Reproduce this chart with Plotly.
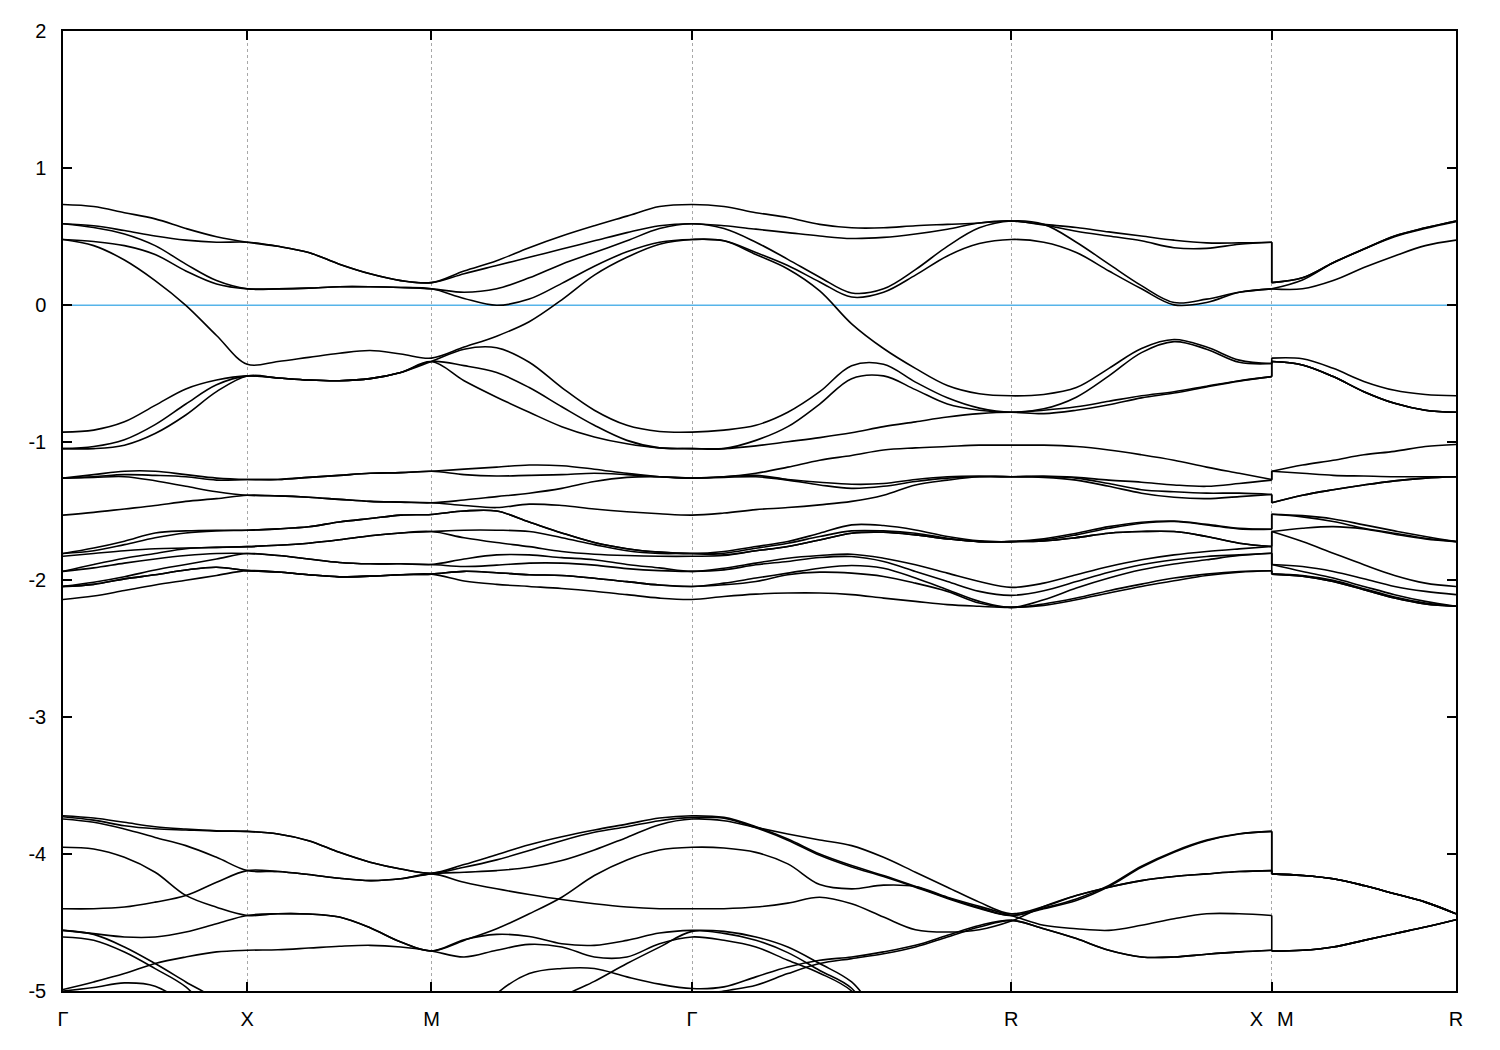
import plotly.graph_objects as go

# ---- k-path (cubic: G-X-M-G-R-X|M-R) ----
SEG_LEN = [0.5, 0.5, 0.70711, 0.86603, 0.70711, 0.0, 0.5]
SEG_N = [6, 6, 8, 10, 8, 1, 6]
TICK_LABELS = ["Γ", "X", "M", "Γ", "R", "X\u2002\u2009M", "R"]
Y_TICKS = [2, 1, 0, -1, -2, -3, -4, -5]
Y_TICK_TEXT = ["2", "1", "0", "-1", "-2", "-3", "-4", "-5"]

L = -5.3  # below the visible window

# ---- bands (eV), sampled along the path: G-X(7) X-M(6) M-G(8) G-R(10) R-X(8) M(1) M-R(6) ----
A8 = [0.735, 0.72, 0.675, 0.63, 0.56, 0.50, 0.46,
      0.43, 0.385, 0.30, 0.23, 0.18, 0.165,
      0.25, 0.325, 0.42, 0.505, 0.58, 0.65, 0.72, 0.735,
      0.72, 0.675, 0.64, 0.59, 0.565, 0.565, 0.58, 0.59, 0.60, 0.615,
      0.59, 0.567, 0.535, 0.505, 0.475, 0.455, 0.455, 0.46,
      0.165,
      0.20, 0.31, 0.41, 0.505, 0.565, 0.615]
A7 = [0.595, 0.58, 0.545, 0.505, 0.475, 0.46, 0.46,
      0.43, 0.385, 0.30, 0.23, 0.18, 0.165,
      0.23, 0.29, 0.35, 0.41, 0.47, 0.53, 0.58, 0.595,
      0.58, 0.555, 0.53, 0.505, 0.487, 0.495, 0.52, 0.555, 0.60, 0.615,
      0.585, 0.54, 0.505, 0.47, 0.42, 0.415, 0.445, 0.46,
      0.165,
      0.20, 0.31, 0.41, 0.505, 0.565, 0.615]
A6 = [0.595, 0.567, 0.52, 0.435, 0.30, 0.18, 0.12,
      0.12, 0.125, 0.135, 0.135, 0.13, 0.12,
      0.095, 0.12, 0.20, 0.30, 0.385, 0.47, 0.56, 0.595,
      0.56, 0.46, 0.335, 0.205, 0.09, 0.12, 0.26, 0.43, 0.565, 0.615,
      0.59, 0.46, 0.30, 0.143, 0.02, 0.045, 0.095, 0.12,
      0.12,
      0.185, 0.31, 0.41, 0.50, 0.56, 0.61]
A5 = [0.48, 0.465, 0.435, 0.37, 0.25, 0.155, 0.12,
      0.12, 0.125, 0.135, 0.135, 0.13, 0.12,
      0.05, 0.0, 0.045, 0.16, 0.285, 0.39, 0.46, 0.48,
      0.47, 0.385, 0.29, 0.17, 0.06, 0.095, 0.22, 0.36, 0.45, 0.48,
      0.46, 0.385, 0.25, 0.12, 0.003, 0.02, 0.095, 0.12,
      0.12,
      0.12, 0.18, 0.275, 0.36, 0.435, 0.475]
A4 = [0.48, 0.435, 0.33, 0.18, 0.0, -0.22, -0.43,
      -0.41, -0.38, -0.35, -0.33, -0.355, -0.385,
      -0.305, -0.225, -0.12, 0.04, 0.22, 0.35, 0.445, 0.48,
      0.47, 0.37, 0.265, 0.105, -0.135, -0.315, -0.46, -0.585, -0.645, -0.66,
      -0.65, -0.60, -0.46, -0.315, -0.25, -0.305, -0.40, -0.425,
      -0.385,
      -0.39, -0.46, -0.555, -0.62, -0.65, -0.66]
A3 = [-0.925, -0.91, -0.85, -0.73, -0.61, -0.545, -0.515,
      -0.53, -0.545, -0.55, -0.535, -0.49, -0.41,
      -0.32, -0.31, -0.415, -0.60, -0.765, -0.875, -0.92, -0.925,
      -0.91, -0.875, -0.78, -0.63, -0.44, -0.43, -0.56, -0.675, -0.75, -0.78,
      -0.755, -0.67, -0.515, -0.345, -0.265, -0.32, -0.415, -0.425,
      -0.41,
      -0.435, -0.52, -0.63, -0.715, -0.765, -0.78]
A2 = [-1.045, -1.03, -0.98, -0.87, -0.72, -0.58, -0.515,
      -0.53, -0.545, -0.55, -0.535, -0.49, -0.41,
      -0.44, -0.49, -0.60, -0.74, -0.875, -0.985, -1.04, -1.045,
      -1.045, -0.985, -0.885, -0.72, -0.535, -0.515, -0.615, -0.72, -0.765, -0.78,
      -0.765, -0.74, -0.70, -0.66, -0.63, -0.59, -0.55, -0.52,
      -0.41,
      -0.435, -0.52, -0.63, -0.715, -0.765, -0.78]
A1 = [-1.045, -1.045, -1.02, -0.935, -0.80, -0.63, -0.515,
      -0.53, -0.545, -0.55, -0.535, -0.49, -0.41,
      -0.55, -0.67, -0.78, -0.885, -0.96, -1.01, -1.04, -1.045,
      -1.045, -1.025, -0.995, -0.965, -0.93, -0.885, -0.85, -0.815, -0.79, -0.78,
      -0.79, -0.765, -0.725, -0.675, -0.64, -0.595, -0.553, -0.52,
      -0.41,
      -0.435, -0.52, -0.63, -0.715, -0.765, -0.78]

B4 = [-1.26, -1.235, -1.21, -1.21, -1.235, -1.26, -1.27,
      -1.27, -1.255, -1.24, -1.225, -1.22, -1.21,
      -1.195, -1.18, -1.165, -1.17, -1.195, -1.225, -1.25, -1.26,
      -1.25, -1.225, -1.18, -1.13, -1.095, -1.055, -1.04, -1.03, -1.02, -1.02,
      -1.02, -1.03, -1.055, -1.09, -1.13, -1.18, -1.225, -1.27,
      -1.21,
      -1.165, -1.13, -1.09, -1.065, -1.03, -1.015]
B3 = [-1.26, -1.25, -1.235, -1.24, -1.25, -1.275, -1.27,
      -1.27, -1.255, -1.24, -1.225, -1.22, -1.21,
      -1.235, -1.245, -1.24, -1.235, -1.225, -1.235, -1.25, -1.26,
      -1.25, -1.24, -1.27, -1.29, -1.305, -1.30, -1.27, -1.25, -1.245, -1.25,
      -1.245, -1.255, -1.275, -1.29, -1.31, -1.32, -1.30, -1.275,
      -1.21,
      -1.225, -1.24, -1.245, -1.25, -1.25, -1.25]
B2 = [-1.26, -1.255, -1.25, -1.28, -1.32, -1.36, -1.385,
      -1.39, -1.40, -1.415, -1.43, -1.435, -1.44,
      -1.42, -1.395, -1.37, -1.335, -1.285, -1.255, -1.25, -1.26,
      -1.255, -1.25, -1.275, -1.31, -1.335, -1.32, -1.285, -1.26, -1.25, -1.25,
      -1.25, -1.26, -1.30, -1.345, -1.36, -1.37, -1.37, -1.38,
      -1.44,
      -1.385, -1.345, -1.31, -1.28, -1.26, -1.25]
B1 = [-1.53, -1.51, -1.485, -1.46, -1.43, -1.41, -1.385,
      -1.39, -1.40, -1.415, -1.43, -1.435, -1.44,
      -1.46, -1.475, -1.45, -1.46, -1.485, -1.505, -1.52, -1.53,
      -1.515, -1.49, -1.475, -1.455, -1.43, -1.385, -1.31, -1.275, -1.25, -1.25,
      -1.255, -1.275, -1.32, -1.37, -1.40, -1.41, -1.395, -1.38,
      -1.44,
      -1.385, -1.345, -1.31, -1.28, -1.26, -1.25]

C9 = [-1.81, -1.77, -1.72, -1.66, -1.645, -1.64, -1.64,
      -1.63, -1.615, -1.58, -1.555, -1.53, -1.525,
      -1.50, -1.50, -1.58, -1.66, -1.73, -1.775, -1.80, -1.81,
      -1.795, -1.759, -1.723, -1.662, -1.601, -1.606, -1.638, -1.686, -1.718, -1.723,
      -1.703, -1.662, -1.614, -1.582, -1.573, -1.597, -1.626, -1.633,
      -1.524,
      -1.534, -1.558, -1.601, -1.645, -1.686, -1.723]
C8 = [-1.81, -1.79, -1.745, -1.695, -1.66, -1.645, -1.64,
      -1.63, -1.615, -1.58, -1.555, -1.53, -1.525,
      -1.50, -1.50, -1.58, -1.66, -1.73, -1.775, -1.80, -1.81,
      -1.808, -1.771, -1.735, -1.686, -1.645, -1.645, -1.662, -1.699, -1.723, -1.723,
      -1.711, -1.674, -1.626, -1.589, -1.577, -1.601, -1.631, -1.633,
      -1.524,
      -1.543, -1.577, -1.626, -1.662, -1.699, -1.723]
C7 = [-1.83, -1.81, -1.79, -1.775, -1.77, -1.765, -1.76,
      -1.75, -1.735, -1.71, -1.68, -1.66, -1.65,
      -1.64, -1.64, -1.65, -1.695, -1.745, -1.79, -1.81, -1.81,
      -1.82, -1.79, -1.759, -1.711, -1.662, -1.655, -1.674, -1.703, -1.723, -1.723,
      -1.718, -1.694, -1.662, -1.650, -1.650, -1.686, -1.735, -1.759,
      -1.65,
      -1.626, -1.614, -1.631, -1.669, -1.703, -1.723]
C6 = [-1.94, -1.89, -1.845, -1.81, -1.775, -1.765, -1.76,
      -1.75, -1.735, -1.71, -1.68, -1.66, -1.65,
      -1.695, -1.73, -1.76, -1.795, -1.815, -1.825, -1.83, -1.83,
      -1.825, -1.79, -1.759, -1.711, -1.662, -1.655, -1.674, -1.703, -1.723, -1.723,
      -1.718, -1.694, -1.662, -1.650, -1.650, -1.686, -1.735, -1.759,
      -1.65,
      -1.723, -1.808, -1.892, -1.970, -2.026, -2.050]
C5 = [-1.94, -1.915, -1.88, -1.85, -1.825, -1.81, -1.81,
      -1.825, -1.85, -1.875, -1.885, -1.885, -1.89,
      -1.85, -1.82, -1.82, -1.84, -1.855, -1.89, -1.915, -1.94,
      -1.917, -1.880, -1.844, -1.825, -1.815, -1.844, -1.892, -1.953, -2.014, -2.057,
      -2.026, -1.965, -1.905, -1.856, -1.820, -1.795, -1.776, -1.759,
      -1.89,
      -1.905, -1.941, -1.994, -2.050, -2.086, -2.110]
C4 = [-2.05, -2.02, -1.98, -1.93, -1.89, -1.85, -1.81,
      -1.825, -1.85, -1.875, -1.885, -1.885, -1.89,
      -1.905, -1.895, -1.88, -1.88, -1.895, -1.92, -1.935, -1.94,
      -1.929, -1.892, -1.868, -1.839, -1.832, -1.868, -1.941, -2.014, -2.086, -2.115,
      -2.081, -2.014, -1.946, -1.892, -1.856, -1.832, -1.820, -1.808,
      -1.89,
      -1.941, -1.989, -2.050, -2.110, -2.159, -2.195]
C3 = [-2.05, -2.035, -1.995, -1.965, -1.93, -1.91, -1.935,
      -1.945, -1.965, -1.98, -1.975, -1.965, -1.96,
      -1.94, -1.95, -1.965, -1.97, -1.99, -2.015, -2.04, -2.05,
      -2.026, -1.989, -1.953, -1.917, -1.897, -1.917, -1.989, -2.074, -2.159, -2.203,
      -2.147, -2.062, -1.989, -1.929, -1.887, -1.856, -1.825, -1.808,
      -1.96,
      -1.970, -2.006, -2.067, -2.127, -2.171, -2.195]
C2 = [-2.05, -2.035, -1.995, -1.965, -1.93, -1.91, -1.935,
      -1.945, -1.965, -1.98, -1.975, -1.965, -1.96,
      -1.94, -1.95, -1.965, -1.97, -1.99, -2.015, -2.04, -2.05,
      -2.038, -2.014, -1.965, -1.946, -1.953, -1.977, -2.026, -2.086, -2.171, -2.203,
      -2.178, -2.135, -2.081, -2.033, -1.989, -1.960, -1.941, -1.936,
      -1.96,
      -1.975, -2.014, -2.074, -2.135, -2.178, -2.195]
C1 = [-2.145, -2.12, -2.08, -2.04, -2.005, -1.97, -1.935,
      -1.945, -1.965, -1.98, -1.975, -1.965, -1.96,
      -2.01, -2.035, -2.05, -2.065, -2.085, -2.11, -2.135, -2.145,
      -2.123, -2.106, -2.098, -2.098, -2.110, -2.135, -2.159, -2.183, -2.195, -2.203,
      -2.188, -2.147, -2.098, -2.050, -2.009, -1.970, -1.946, -1.936,
      -1.96,
      -1.975, -2.014, -2.074, -2.135, -2.178, -2.195]

D1 = [-3.722, -3.739, -3.770, -3.802, -3.819, -3.831, -3.836,
      -3.855, -3.904, -3.989, -4.061, -4.110, -4.141,
      -4.078, -4.006, -3.933, -3.875, -3.826, -3.783, -3.739, -3.722,
      -3.734, -3.802, -3.892, -4.001, -4.085, -4.158, -4.238, -4.320, -4.393, -4.449,
      -4.400, -4.340, -4.238, -4.098, -3.988, -3.904, -3.855, -3.836,
      -4.146,
      -4.158, -4.182, -4.231, -4.291, -4.352, -4.437]
D2 = [-3.729, -3.754, -3.795, -3.817, -3.826, -3.834, -3.836,
      -3.855, -3.904, -3.989, -4.061, -4.110, -4.141,
      -4.098, -4.044, -3.976, -3.904, -3.843, -3.802, -3.758, -3.734,
      -3.740, -3.810, -3.900, -4.010, -4.095, -4.165, -4.243, -4.325, -4.398, -4.449,
      -4.395, -4.330, -4.230, -4.090, -3.982, -3.900, -3.853, -3.836,
      -4.146,
      -4.158, -4.182, -4.231, -4.291, -4.352, -4.437]
D3 = [-3.746, -3.770, -3.819, -3.880, -3.940, -4.025, -4.122,
      -4.129, -4.151, -4.178, -4.195, -4.182, -4.146,
      -4.134, -4.122, -4.098, -4.049, -3.972, -3.880, -3.787, -3.746,
      -3.758, -3.807, -3.855, -3.899, -3.940, -4.025, -4.134, -4.243, -4.352, -4.437,
      -4.384, -4.304, -4.243, -4.195, -4.165, -4.146, -4.129, -4.122,
      -4.146,
      -4.158, -4.182, -4.231, -4.291, -4.352, -4.437]
D4 = [-3.952, -3.964, -4.025, -4.134, -4.303, -4.389, -4.449,
      -4.437, -4.439, -4.461, -4.539, -4.643, -4.708,
      -4.631, -4.546, -4.437, -4.316, -4.158, -4.044, -3.972, -3.952,
      -3.957, -3.989, -4.073, -4.224, -4.255, -4.228, -4.238, -4.316, -4.383, -4.449,
      -4.521, -4.546, -4.558, -4.521, -4.473, -4.437, -4.437, -4.449,
      -4.708,
      -4.703, -4.679, -4.631, -4.582, -4.534, -4.480]
D5 = [-4.400, -4.400, -4.388, -4.352, -4.304, -4.207, -4.122,
      -4.129, -4.151, -4.178, -4.195, -4.182, -4.146,
      -4.207, -4.255, -4.296, -4.333, -4.364, -4.388, -4.400, -4.400,
      -4.400, -4.388, -4.359, -4.316, -4.364, -4.461, -4.553, -4.570, -4.553, -4.490,
      -4.384, -4.304, -4.243, -4.195, -4.165, -4.146, -4.129, -4.122,
      -4.146,
      -4.158, -4.182, -4.231, -4.291, -4.352, -4.437]
D6 = [-4.558, -4.582, -4.606, -4.606, -4.570, -4.509, -4.449,
      -4.437, -4.439, -4.461, -4.539, -4.643, -4.708,
      -4.626, -4.587, -4.602, -4.655, -4.667, -4.631, -4.577, -4.558,
      -4.565, -4.606, -4.679, -4.800, -4.934, -5.2, L, L, L, L,
      L, L, L, L, L, L, L, L,
      L,
      L, L, L, L, L, L]
D7 = [-4.558, -4.587, -4.679, -4.800, -4.934, -5.067, L,
      L, L, L, L, L, L,
      L, -5.02, -4.873, -4.836, -4.836, -4.897, -4.95, -4.982,
      -4.970, -4.897, -4.825, -4.776, -4.752, -4.715, -4.667, -4.594, -4.522, -4.485,
      -4.546, -4.618, -4.703, -4.752, -4.752, -4.732, -4.715, -4.703,
      -4.708,
      -4.703, -4.679, -4.631, -4.582, -4.534, -4.480]
D8 = [-4.606, -4.630, -4.716, -4.837, -4.970, -5.2, L,
      L, L, L, L, L, L,
      L, L, L, -5.05, -4.93, -4.80, -4.68, -4.565,
      -4.58, -4.63, -4.72, -4.85, -4.98, L, L, L, L, L,
      L, L, L, L, L, L, L, L,
      L,
      L, L, L, L, L, L]
D9 = [-4.989, -4.934, -4.873, -4.800, -4.752, -4.715, -4.703,
      -4.699, -4.687, -4.674, -4.667, -4.679, -4.708,
      -4.752, -4.703, -4.660, -4.679, -4.752, -4.752, -4.655, -4.606,
      -4.630, -4.679, -4.776, -4.87, -5.0, L, L, L, L, L,
      L, L, L, L, L, L, L, L,
      L,
      L, L, L, L, L, L]
D10 = [-5.0, -4.975, -4.941, -4.965, -5.1, L, L,
       L, L, L, L, L, L,
       L, L, L, L, L, L, L, -5.05,
       -5.0, -4.958, -4.873, -4.800, -4.764, -4.728, -4.679, -4.606, -4.534, -4.485,
       -4.546, -4.618, -4.703, -4.752, -4.752, -4.732, -4.715, -4.703,
       -4.708,
       -4.703, -4.679, -4.631, -4.582, -4.534, -4.480]

BANDS = [A1, A2, A3, A4, A5, A6, A7, A8,
         B1, B2, B3, B4,
         C1, C2, C3, C4, C5, C6, C7, C8, C9,
         D1, D2, D3, D4, D5, D6, D7, D8, D9, D10]

# ---- sample positions along the path ----
K = [0.0]
for seg_len, n in zip(SEG_LEN, SEG_N):
    start = K[-1]
    for i in range(1, n + 1):
        K.append(start + seg_len * i / n)
TICK_K = [0.0]
for seg_len in SEG_LEN:
    TICK_K.append(TICK_K[-1] + seg_len)
TICK_K = [TICK_K[i] for i in (0, 1, 2, 3, 4, 5, 7)]
JUMP = 39  # first index after the X|M discontinuity
K_MAX = K[-1]

fig = go.Figure()
fig.add_trace(go.Scatter(x=[0, K_MAX], y=[0, 0], mode="lines",
                         line=dict(color="#56b4e9", width=1.6),
                         hoverinfo="skip", showlegend=False))

line_style = dict(color="black", width=1.6, shape="spline", smoothing=1.0)
for band in BANDS:
    fig.add_trace(go.Scatter(x=K[:JUMP], y=band[:JUMP], mode="lines",
                             line=line_style, hoverinfo="skip", showlegend=False))
    fig.add_trace(go.Scatter(x=K[JUMP:], y=band[JUMP:], mode="lines",
                             line=line_style, hoverinfo="skip", showlegend=False))
    fig.add_trace(go.Scatter(x=[K[JUMP - 1], K[JUMP]], y=[band[JUMP - 1], band[JUMP]],
                             mode="lines", line=dict(color="black", width=1.6),
                             hoverinfo="skip", showlegend=False))

fig.update_layout(
    width=1500, height=1050,
    margin=dict(l=55, r=52, t=16, b=67),
    paper_bgcolor="white", plot_bgcolor="white",
    font=dict(family="Liberation Sans, Arial, sans-serif", size=20, color="black"),
    showlegend=False,
)
fig.update_xaxes(
    range=[0, K_MAX], tickvals=TICK_K, ticktext=TICK_LABELS,
    showline=True, linecolor="black", linewidth=1.5, mirror="ticks",
    ticks="inside", ticklen=9, tickwidth=1.5, tickcolor="black",
    showgrid=True, gridcolor="#a8a8a8", gridwidth=1, griddash="dot",
    zeroline=False, ticklabelstandoff=9,
)
fig.update_yaxes(
    range=[-5, 2], tickvals=Y_TICKS, ticktext=Y_TICK_TEXT,
    showline=True, linecolor="black", linewidth=1.5, mirror="ticks",
    ticks="inside", ticklen=9, tickwidth=1.5, tickcolor="black",
    showgrid=False, zeroline=False, ticklabelstandoff=11,
)

fig.write_html("out.html")
